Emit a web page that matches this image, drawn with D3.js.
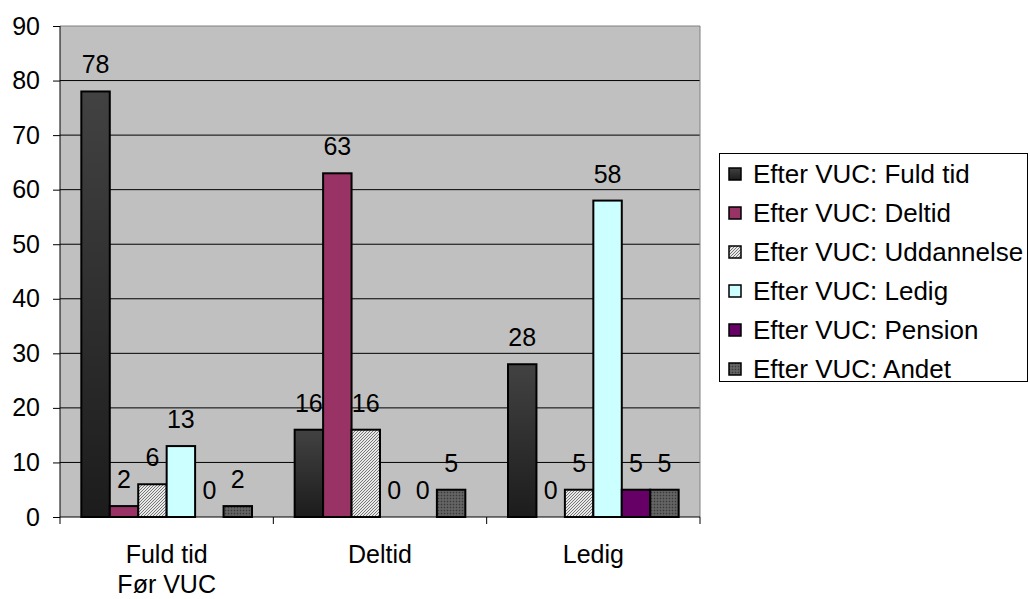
<!DOCTYPE html>
<html><head><meta charset="utf-8">
<script src="https://cdn.jsdelivr.net/npm/d3@7"></script>
<style>body{margin:0;background:#fff}svg{display:block}text{font-family:"Liberation Sans",Arial,sans-serif}</style>
</head><body><svg id="c" width="1030" height="599"></svg>
<script>
const categories = [["Fuld tid","Før VUC"],["Deltid"],["Ledig"]];
const seriesNames = ["Efter VUC: Fuld tid","Efter VUC: Deltid","Efter VUC: Uddannelse","Efter VUC: Ledig","Efter VUC: Pension","Efter VUC: Andet"];
const fuldTid = [78,16,28];
const deltid = [2,63,0];
const uddannelse = [6,16,5];
const ledig = [13,0,58];
const pension = [0,0,5];
const andet = [2,5,5];
const yTicks = [0,10,20,30,40,50,60,70,80,90];
const seriesValues = [fuldTid,deltid,uddannelse,ledig,pension,andet];

const svg = d3.select("#c");
const defs = svg.append("defs");
const g1 = defs.append("linearGradient").attr("id","gBlack").attr("x1",0).attr("y1",0).attr("x2",0).attr("y2",1);
g1.append("stop").attr("offset","0%").attr("stop-color","#424242");
g1.append("stop").attr("offset","100%").attr("stop-color","#1c1c1c");
const p1 = defs.append("pattern").attr("id","pHatch").attr("patternUnits","userSpaceOnUse").attr("width",3).attr("height",3);
p1.append("rect").attr("width",3).attr("height",3).attr("fill","#e8e8e8");
p1.append("path").attr("d","M-1,1 l2,-2 M0,3 l3,-3 M2,4 l2,-2").attr("stroke","#777").attr("stroke-width",1);
const p2 = defs.append("pattern").attr("id","pDots").attr("patternUnits","userSpaceOnUse").attr("width",3).attr("height",3);
p2.append("rect").attr("width",3).attr("height",3).attr("fill","#5a5a5a");
p2.append("rect").attr("width",1).attr("height",1).attr("fill","#3a3a3a");
p2.append("rect").attr("x",1.5).attr("y",1.5).attr("width",1).attr("height",1).attr("fill","#808080");
const fills = ["url(#gBlack)","#993366","url(#pHatch)","#CCFFFF","#660066","url(#pDots)"];

const L = 60, R = 700, T = 26, B = 517;
const x0 = d3.scaleBand().domain(d3.range(categories.length)).range([L,R]).paddingInner(0).paddingOuter(0);
const x1 = d3.scaleBand().domain(d3.range(seriesNames.length)).range([0, x0.bandwidth()]).paddingOuter(0.75).paddingInner(0);
const y = d3.scaleLinear().domain([0,90]).range([B,T]);

svg.append("rect").attr("x",L).attr("y",T).attr("width",R-L).attr("height",B-T).attr("fill","#C0C0C0");
svg.append("g").selectAll("line").data(yTicks.slice(1)).join("line")
  .attr("x1",L).attr("x2",R).attr("y1",d=>y(d)).attr("y2",d=>y(d))
  .attr("stroke", d=> d===90 ? "#808080" : "#000").attr("stroke-width",1);
svg.append("line").attr("x1",R).attr("x2",R).attr("y1",T).attr("y2",B).attr("stroke","#808080");

const bars = svg.append("g");
seriesValues.forEach((vals,si)=>{
  vals.forEach((v,ci)=>{
    const bx = x0(ci)+x1(si);
    if (v>0) {
      bars.append("rect").attr("x",bx).attr("y",y(v)).attr("width",x1.bandwidth()).attr("height",y(0)-y(v))
        .attr("fill",fills[si]).attr("stroke","#000").attr("stroke-width",2);
    }
    bars.append("text").attr("x",bx+x1.bandwidth()/2).attr("y",y(v)-18).attr("text-anchor","middle")
      .attr("font-size",25).attr("fill","#000").text(v);
  });
});

// axes
const ya = svg.append("g").attr("transform",`translate(${L},0)`)
  .call(d3.axisLeft(y).tickValues(yTicks).tickSize(7).tickPadding(13).tickFormat(d3.format("d")));
ya.select(".domain").attr("stroke","#000").attr("d",`M0,${T}V${B}`);
ya.selectAll("text").attr("font-size",25).attr("font-family","Liberation Sans, Arial, sans-serif").attr("fill","#000");
ya.selectAll("line").attr("stroke","#000");

const xa = svg.append("g");
xa.append("line").attr("x1",L).attr("x2",R).attr("y1",B).attr("y2",B).attr("stroke","#000");
xa.selectAll("line.t").data(d3.range(categories.length+1)).join("line").attr("class","t")
  .attr("x1",i=> i<categories.length ? x0(i) : R).attr("x2",i=> i<categories.length ? x0(i) : R)
  .attr("y1",B).attr("y2",B+7).attr("stroke","#000");
categories.forEach((lines,ci)=>{
  const t = xa.append("text").attr("x",x0(ci)+x0.bandwidth()/2).attr("y",563).attr("text-anchor","middle").attr("font-size",25);
  lines.forEach((ln,li)=> t.append("tspan").attr("x",x0(ci)+x0.bandwidth()/2).attr("dy", li===0?0:30).text(ln));
});

// legend
const lg = svg.append("g");
lg.append("rect").attr("x",719.5).attr("y",153.5).attr("width",308).attr("height",228).attr("fill","#fff").attr("stroke","#000");
const ly = d3.scalePoint().domain(d3.range(seriesNames.length)).range([174,369]);
seriesNames.forEach((n,i)=>{
  lg.append("rect").attr("x",729).attr("y",ly(i)-6).attr("width",12).attr("height",12).attr("fill",fills[i]).attr("stroke","#000").attr("stroke-width",1.5);
  lg.append("text").attr("x",753).attr("y",ly(i)+9).attr("font-size",26).text(n);
});
</script></body></html>
